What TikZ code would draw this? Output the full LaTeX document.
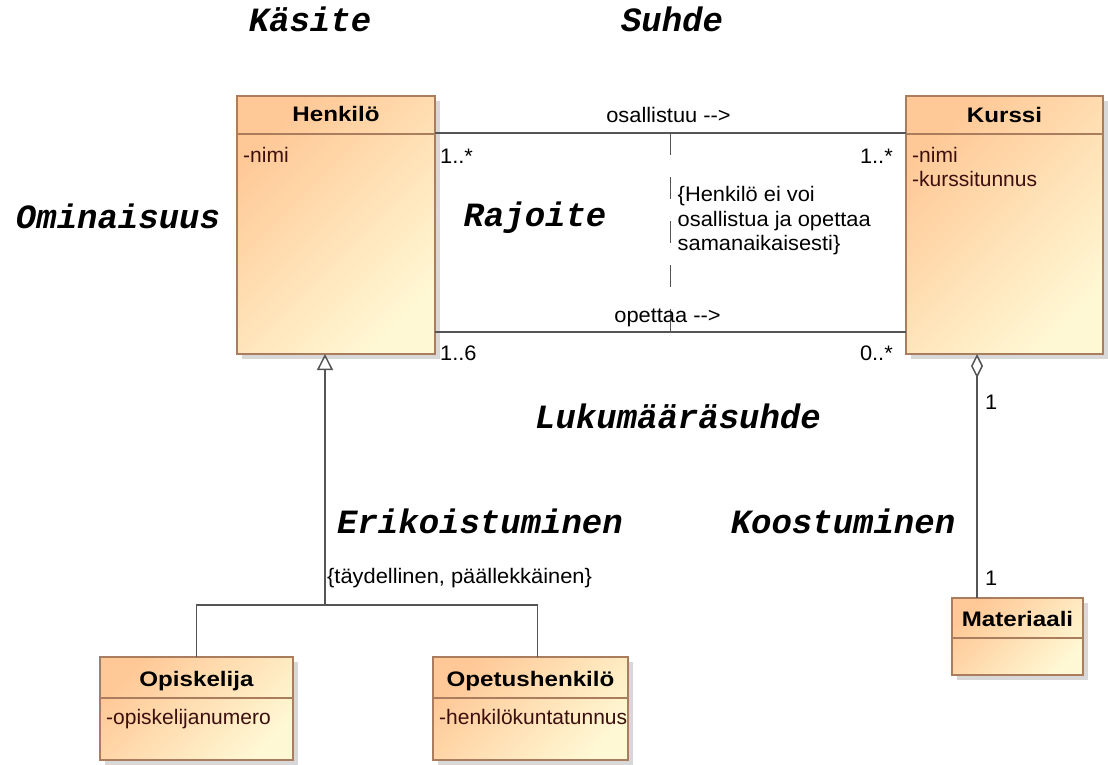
\documentclass[tikz,border=0pt]{standalone}
\usepackage{fontspec}
\setmainfont{Liberation Sans}[FakeStretch=1.04]
\newfontfamily\attrfont{Liberation Sans}
\newfontfamily\namefont{Liberation Sans Bold}[FakeStretch=1.15]
\newfontfamily\lblfont{Liberation Mono}
\usetikzlibrary{shadows,calc,arrows.meta}
\definecolor{corange}{RGB}{255,200,150}
\definecolor{cyellow}{RGB}{255,248,212}
\definecolor{cborder}{RGB}{170,125,95}
\definecolor{cline}{RGB}{85,85,85}
\definecolor{cattr}{RGB}{60,15,15}
\begin{document}
\begin{tikzpicture}[x=1pt,y=-1pt,
  cls/.style={draw=cborder, line width=1.5pt, top color=corange, bottom color=cyellow, shading angle=45,
    drop shadow={shadow xshift=5pt, shadow yshift=-5pt, fill=black!30, draw=none},
    inner sep=0pt, outer sep=0pt, anchor=north west},
  sepline/.style={draw=cborder, line width=1.5pt},
  cname/.style={font=\namefont\fontsize{21}{25}\selectfont, inner sep=0pt, anchor=base},
  cattr/.style={font=\attrfont\fontsize{21}{25}\selectfont, text=cattr, inner sep=0pt, anchor=base west},
  mult/.style={font=\fontsize{21}{24.5}\selectfont, inner sep=0pt},
  assoc/.style={draw=cline, line width=1.5pt},
  lbl/.style={font=\lblfont\bfseries\itshape\fontsize{34}{40}\selectfont, inner sep=0pt, anchor=base},
]
\useasboundingbox (0,0) rectangle (1108,765);

% classes
\node[cls, minimum width=198pt, minimum height=258pt] (henk) at (237,96) {};
\draw[sepline] ($(henk.north west)+(0,38)$) -- ($(henk.north east)+(0,38)$);
\node[cname] (henkn) at ($(henk.north)+(0,26)$) {Henkilö};
\node[cattr] (henka) at ($(henk.north west)+(6,66)$) {-nimi};

\node[cls, minimum width=197pt, minimum height=258pt] (kur) at (906,96) {};
\draw[sepline] ($(kur.north west)+(0,38)$) -- ($(kur.north east)+(0,38)$);
\node[cname] (kurn) at ($(kur.north)+(0,27)$) {Kurssi};
\node[cattr] (kura) at ($(kur.north west)+(6,66)$) {-nimi};
\node[cattr] (kurb) at ($(kur.north west)+(6,90)$) {-kurssitunnus};

\node[cls, minimum width=193pt, minimum height=103pt] (opis) at (100,657) {};
\draw[sepline] ($(opis.north west)+(0,41)$) -- ($(opis.north east)+(0,41)$);
\node[cname] (opisn) at ($(opis.north)+(0,29)$) {Opiskelija};
\node[cattr] (opisa) at ($(opis.north west)+(6,67)$) {-opiskelijanumero};

\node[cls, minimum width=195pt, minimum height=103pt] (opet) at (433,657) {};
\draw[sepline] ($(opet.north west)+(0,41)$) -- ($(opet.north east)+(0,41)$);
\node[cname] (opetn) at ($(opet.north)+(0,29)$) {Opetushenkilö};
\node[cattr] (opeta) at ($(opet.north west)+(6,67)$) {-henkilökuntatunnus};

\node[cls, minimum width=131pt, minimum height=77pt] (mat) at (952,598) {};
\draw[sepline] ($(mat.north west)+(0,40)$) -- ($(mat.north east)+(0,40)$);
\node[cname] (matn) at ($(mat.north)+(0,28)$) {Materiaali};

% associations
\coordinate (o1) at ($(henk.north east)+(0,37)$);
\coordinate (o2) at ($(kur.north west)+(0,37)$);
\draw[assoc] (o1) -- (o2);
\coordinate (p1) at ($(henk.north east)+(0,236)$);
\coordinate (p2) at ($(kur.north west)+(0,236)$);
\draw[assoc] (p1) -- (p2);
\coordinate (c1) at ($(o1)!0.5!(o2)$);
\coordinate (c2) at ($(p1)!0.5!(p2)$);
\draw[assoc, line width=1.2pt, dash pattern=on 22pt off 22pt] (c1) -- (c2);

\node[mult, anchor=base] (oname) at ($(c1)+(-2,-10)$) {osallistuu -{}-{}>};
\node[mult, anchor=base] (pname) at ($(c2)+(-3,-10)$) {opettaa -{}-{}>};
\node[mult, anchor=base west] (m1) at ($(o1)+(5,30)$) {1..*};
\node[mult, anchor=base east] (m2) at ($(o2)+(-13,30)$) {1..*};
\node[mult, anchor=base west] (m3) at ($(p1)+(5,28)$) {1..6};
\node[mult, anchor=base east] (m4) at ($(p2)+(-13,28)$) {0..*};
\node[mult, anchor=west, align=left] (cons) at ($(c1)+(7,88)$) {\{Henkilö ei voi\\osallistua ja opettaa\\samanaikaisesti\}};

% generalization
\coordinate (gtip) at ($(henk.south west)+(88,0)$);
\coordinate (gj) at ($(gtip)+(0,251)$);
\draw[assoc, -{Triangle[open, fill=white, length=16pt, width=16pt]}] (gj) -- (gtip);
\draw[assoc] (opis.north) |- (gj) -| ($(opet.north)+(7,0)$);
\node[mult, anchor=base west] (gc) at ($(gj)+(2,-22)$) {\{täydellinen, päällekkäinen\}};

% aggregation
\coordinate (ag1) at ($(kur.south west)+(71,0)$);
\coordinate (ag2) at ($(mat.north west)+(25,0)$);
\draw[assoc, {Diamond[open, fill=white, length=24pt, width=12pt]}-] (ag1) -- (ag2);
\node[mult, anchor=base west] (a1) at ($(ag1)+(8,55)$) {1};
\node[mult, anchor=base west] (a2) at ($(ag2)+(8,-13)$) {1};

% concept labels
\node[lbl] (kasite) at (310,32) {Käsite};
\node[lbl] (suhde) at (672,32) {Suhde};
\node[lbl] (omin) at (118,228) {Ominaisuus};
\node[lbl] (raj) at (535,226) {Rajoite};
\node[lbl] (luku) at (678,428) {Lukumääräsuhde};
\node[lbl] (erik) at (480,533) {Erikoistuminen};
\node[lbl] (koos) at (843,533) {Koostuminen};
\end{tikzpicture}
\end{document}
